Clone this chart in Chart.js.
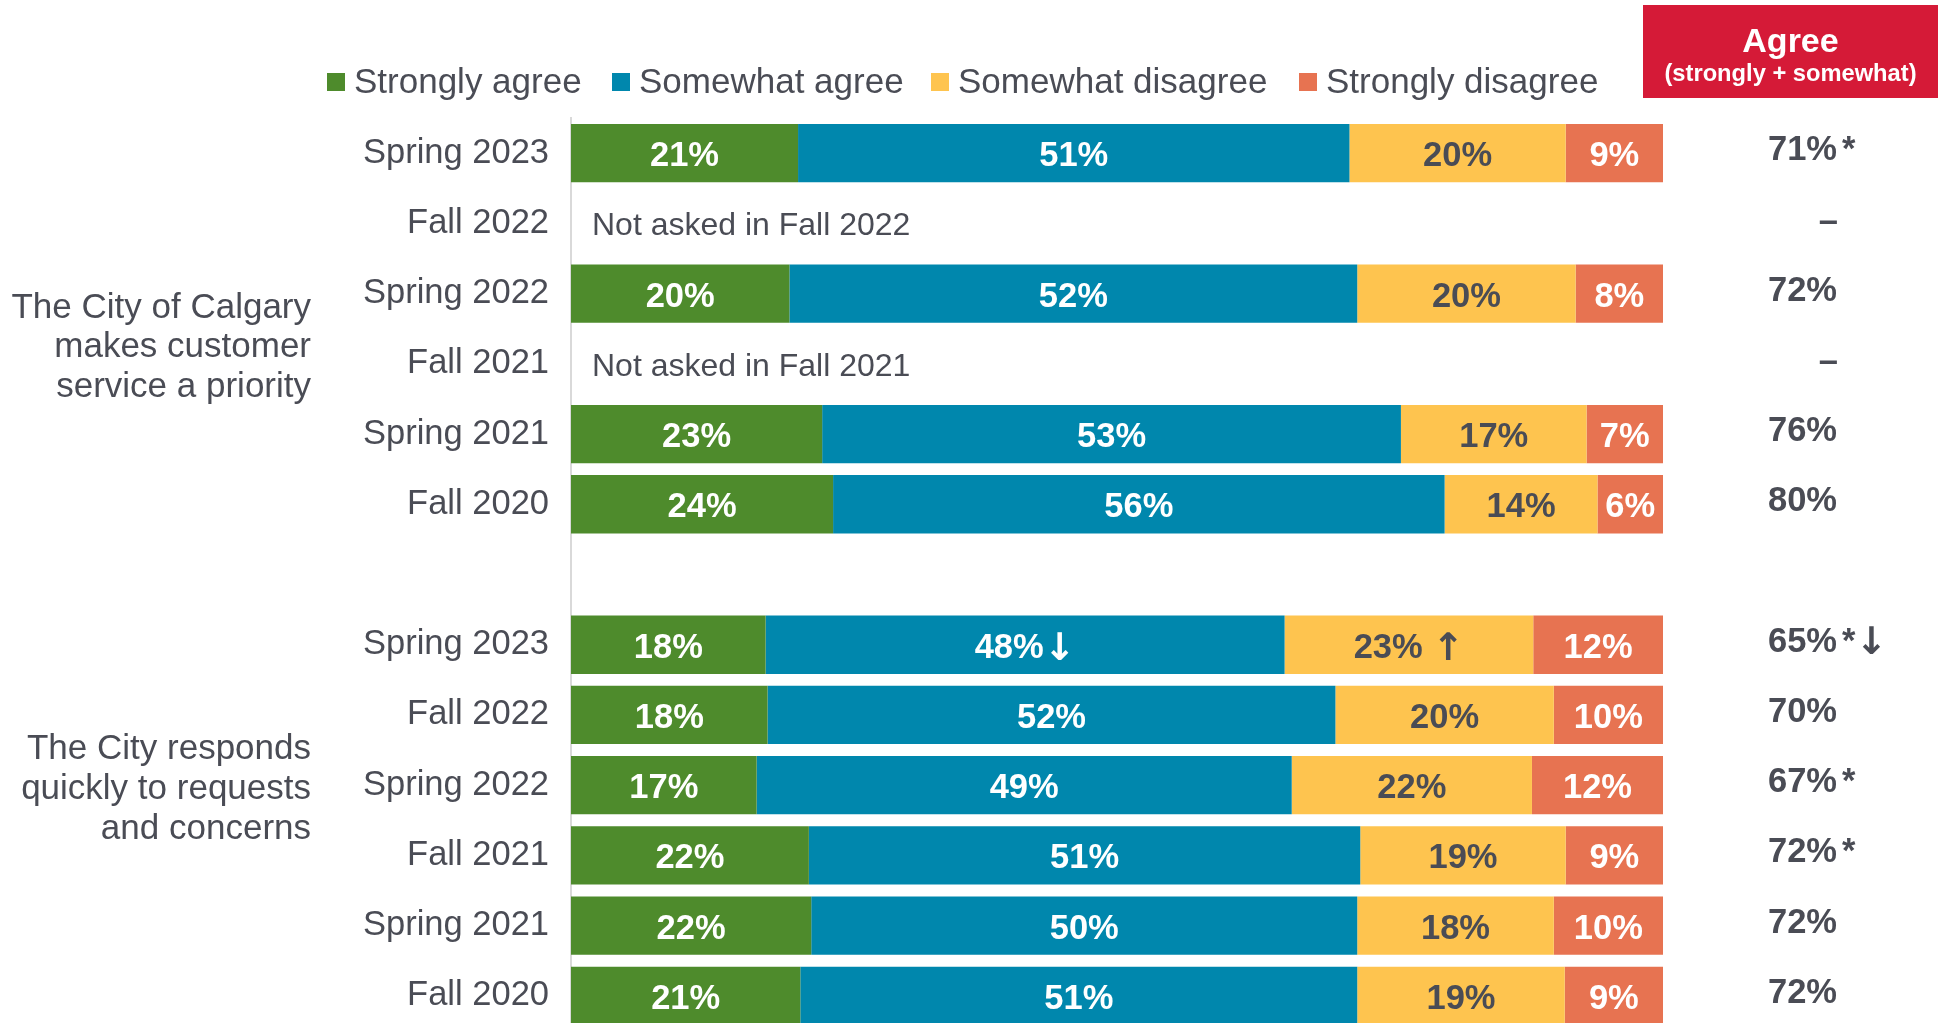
<!DOCTYPE html>
<html><head><meta charset="utf-8">
<script src="https://cdn.jsdelivr.net/npm/chart.js@4.4.1/dist/chart.umd.min.js"></script>
<style>
html,body{margin:0;padding:0;background:#fff;overflow:hidden;width:1956px;height:1023px}
#wrap{position:relative;width:1956px;height:1031px}
canvas{display:block}
</style></head><body>
<div id="wrap"><canvas id="c" width="1956" height="1031"></canvas></div>
<script>
// ---------- data ----------
const categories = ['Spring 2023','Fall 2022','Spring 2022','Fall 2021','Spring 2021','Fall 2020','',
                    'Spring 2023','Fall 2022','Spring 2022','Fall 2021','Spring 2021','Fall 2020'];
const seriesNames = ['Strongly agree','Somewhat agree','Somewhat disagree','Strongly disagree'];
const stronglyAgree    = [21,null,20,null,23,24,null,18,18,17,22,22,21];
const somewhatAgree    = [51,null,52,null,53,56,null,48,52,49,51,50,51];
const somewhatDisagree = [20,null,20,null,17,14,null,23,20,22,19,18,19];
const stronglyDisagree = [9,null,8,null,7,6,null,12,10,12,9,10,9];
const somewhatAgreeMarks    = ['','','','','','','','↓','','','','',''];
const somewhatDisagreeMarks = ['','','','','','','',' ↑','','','','',''];
const agreeTotal = [71,null,72,null,76,80,null,65,70,67,72,72,72];
const agreeMarks = ['*','','','','','','','*↓','','*','*','',''];
const notAskedNotes = ['','Not asked in Fall 2022','','Not asked in Fall 2021','','','','','','','','',''];
const groupLabels = [
  ['The City of Calgary','makes customer','service a priority'],
  ['The City responds','quickly to requests','and concerns']
];
const headerTitle = 'Agree';
const headerSub = '(strongly + somewhat)';

// ---------- style ----------
const COLORS = ['#4e8b2c','#0087ad','#fec44f','#e77351'];
const LABEL_COLORS = ['#ffffff','#ffffff','#4a4c55','#ffffff'];
const TEXT = '#4a4c55';
const FONT = '"Liberation Sans", Arial, sans-serif';
const BOLD = 'bold 34.5px ' + FONT;
const ARROW = 'bold 38px "DejaVu Sans", sans-serif';

const raw = [stronglyAgree, somewhatAgree, somewhatDisagree, stronglyDisagree];
const marks = [categories.map(()=>''), somewhatAgreeMarks, somewhatDisagreeMarks, categories.map(()=>'')];
const rowSums = categories.map((_, i) => raw.reduce((s, a) => s + (a[i] || 0), 0));

const datasets = raw.map((arr, k) => ({
  label: seriesNames[k],
  data: arr.map((v, i) => v == null ? null : v / rowSums[i] * 100),
  rawValues: arr,
  marks: marks[k],
  labelColor: LABEL_COLORS[k],
  backgroundColor: COLORS[k],
  borderWidth: 0,
  barPercentage: 0.83,
  categoryPercentage: 1.0
}));

// draw text where arrows use a wider arrow font
function runs(text) {
  const out = [];
  for (const ch of text) {
    const f = (ch === '↑' || ch === '↓') ? ARROW : BOLD;
    if (out.length && out[out.length - 1].font === f) out[out.length - 1].t += ch;
    else out.push({ t: ch, font: f });
  }
  return out;
}
function drawRich(ctx, text, x, y, align) {
  const rs = runs(text);
  let total = 0;
  rs.forEach(r => { ctx.font = r.font; r.w = ctx.measureText(r.t).width; total += r.w; });
  let cx = align === 'center' ? x - total / 2 : (align === 'right' ? x - total : x);
  ctx.textAlign = 'left';
  rs.forEach(r => { ctx.font = r.font; ctx.fillText(r.t, cx, r.font === ARROW ? y + 2 : y); cx += r.w; });
}

const overlay = {
  id: 'overlay',
  afterDraw(chart) {
    const ctx = chart.ctx;
    const ys = chart.scales.y;
    ctx.save();
    // bar value labels
    chart.data.datasets.forEach((ds, di) => {
      const meta = chart.getDatasetMeta(di);
      meta.data.forEach((el, i) => {
        const v = ds.rawValues[i];
        if (v == null) return;
        ctx.fillStyle = ds.labelColor;
        ctx.textBaseline = 'middle';
        drawRich(ctx, v + '%' + ds.marks[i], (el.x + el.base) / 2, el.y + 3.5, 'center');
      });
    });
    // not asked notes
    ctx.font = '32px ' + FONT;
    ctx.fillStyle = TEXT;
    ctx.textAlign = 'left';
    ctx.textBaseline = 'middle';
    notAskedNotes.forEach((t, i) => {
      if (t) ctx.fillText(t, chart.chartArea.left + 21, ys.getPixelForValue(i) + 3);
    });
    // header box
    ctx.fillStyle = '#d51a37';
    ctx.fillRect(1643, 5, 295, 93);
    ctx.fillStyle = '#ffffff';
    ctx.textAlign = 'center';
    ctx.textBaseline = 'alphabetic';
    ctx.font = 'bold 34px ' + FONT;
    ctx.fillText(headerTitle, 1790.5, 52);
    ctx.font = 'bold 23.7px ' + FONT;
    ctx.fillText(headerSub, 1790.5, 81);
    // agree totals
    categories.forEach((c, i) => {
      if (!c) return;
      const y = ys.getPixelForValue(i);
      ctx.fillStyle = TEXT;
      ctx.font = BOLD;
      ctx.textBaseline = 'middle';
      if (agreeTotal[i] == null) {
        ctx.textAlign = 'right';
        ctx.fillText('–', 1838, y - 1);
      } else {
        ctx.textAlign = 'right';
        ctx.fillText(agreeTotal[i] + '%', 1837, y - 2.5);
        if (agreeMarks[i]) drawRich(ctx, agreeMarks[i], 1842, y - 2.5, 'left');
      }
    });
    // group labels
    ctx.font = '35px ' + FONT;
    ctx.fillStyle = TEXT;
    ctx.textAlign = 'right';
    ctx.textBaseline = 'alphabetic';
    const groupMid = [2.91, 9.2];
    groupLabels.forEach((lines, g) => {
      const mid = ys.getPixelForValue(groupMid[g]);
      lines.forEach((t, j) => ctx.fillText(t, 311, mid + (j - 1) * 39.8));
    });
    // legend
    const boxX = [327, 612, 931, 1299];
    ctx.font = '35px ' + FONT;
    ctx.textAlign = 'left';
    ctx.textBaseline = 'alphabetic';
    chart.data.datasets.forEach((ds, k) => {
      ctx.fillStyle = ds.backgroundColor;
      ctx.fillRect(boxX[k], 73, 18, 18);
      ctx.fillStyle = TEXT;
      ctx.fillText(ds.label, boxX[k] + 27, 93);
    });
    ctx.restore();
  }
};

new Chart(document.getElementById('c'), {
  type: 'bar',
  data: { labels: categories, datasets },
  options: {
    indexAxis: 'y',
    responsive: false,
    animation: false,
    layout: { padding: { left: 0, right: 293, top: 118, bottom: 0 } },
    plugins: { legend: { display: false }, tooltip: { enabled: false } },
    scales: {
      x: { stacked: true, min: 0, max: 100, display: false },
      y: {
        stacked: true,
        grid: { display: false, drawTicks: false },
        border: { display: true, color: '#d9d9d9', width: 2 },
        ticks: { color: TEXT, font: { family: FONT, size: 34.5 }, padding: 22, autoSkip: false },
        afterFit(scale) { scale.width = 571; scale.paddingTop = 0; scale.paddingBottom = 0; }
      }
    }
  },
  plugins: [overlay]
});
</script>
</body></html>
